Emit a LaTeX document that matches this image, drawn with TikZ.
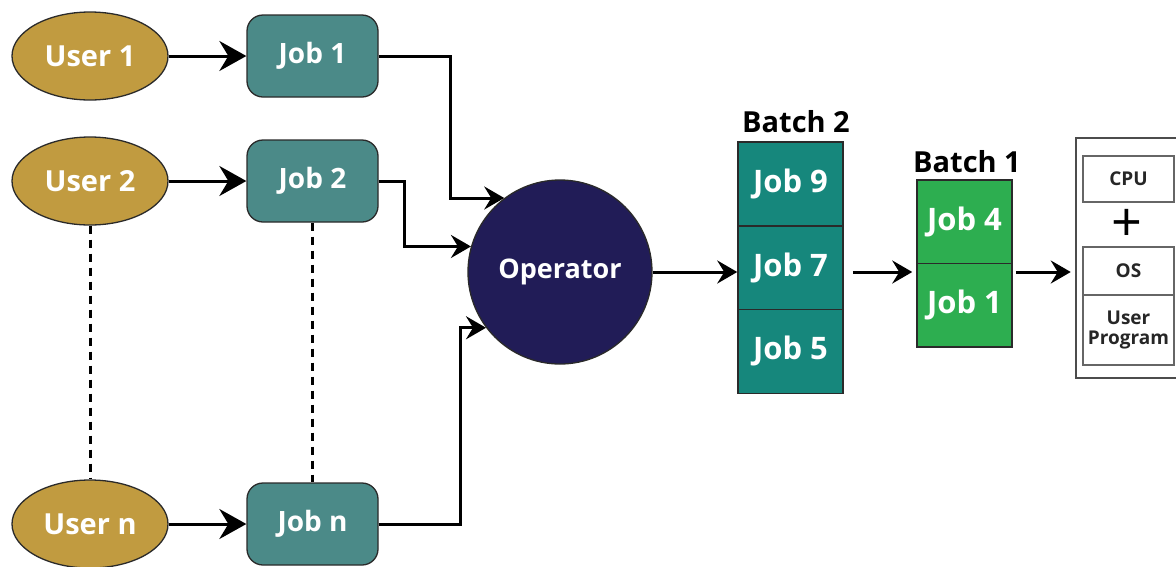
\documentclass[tikz,border=0pt]{standalone}
\usepackage{fontspec}
\setmainfont{Open Sans}
\usetikzlibrary{shapes.geometric,arrows.meta,calc}
\definecolor{userfill}{HTML}{C19B40}
\definecolor{jobfill}{HTML}{4B8A88}
\definecolor{opfill}{HTML}{211C57}
\definecolor{btwofill}{HTML}{16877C}
\definecolor{bonefill}{HTML}{2DAE50}
\definecolor{edgec}{HTML}{2A2A2A}
\definecolor{boxgray}{HTML}{666666}
\tikzset{
  userell/.style={ellipse, draw=edgec, line width=1.3pt, fill=userfill, minimum width=156pt, minimum height=88pt, inner sep=0pt, text=white, font=\bfseries\fontsize{29}{31}\selectfont},
  jobbox/.style={rectangle, rounded corners=16pt, draw=edgec, line width=1.3pt, fill=jobfill, minimum width=131pt, minimum height=82pt, inner sep=0pt, text=white, font=\bfseries\fontsize{28}{30}\selectfont},
  opnode/.style={circle, draw=edgec, line width=1.3pt, fill=opfill, minimum size=184pt, inner sep=0pt, text=white, font=\bfseries\fontsize{27}{29}\selectfont},
  btwocell/.style={rectangle, draw=edgec, line width=1.5pt, fill=btwofill, minimum width=105pt, minimum height=83.7pt, inner sep=0pt, text=white, font=\bfseries\fontsize{31}{33}\selectfont},
  bonecell/.style={rectangle, draw=edgec, line width=1.5pt, fill=bonefill, minimum width=95pt, minimum height=83.5pt, inner sep=0pt, text=white, font=\bfseries\fontsize{31}{33}\selectfont},
  batchlabel/.style={anchor=base, text=black, font=\bfseries\fontsize{29}{31}\selectfont, inner sep=0pt},
  sysbox/.style={rectangle, draw=boxgray, line width=2pt, minimum width=91pt, inner sep=0pt, text=black!85, font=\bfseries\fontsize{19}{26}\selectfont, align=center},
  bigarrow/.style={line width=3pt, -{Stealth[length=27pt,width=30pt,inset=9pt]}},
  arr/.style={line width=3pt, -{Stealth[length=20pt,width=23pt,inset=7pt]}},
  dashline/.style={line width=3pt, dash pattern=on 8pt off 6pt},
}
\begin{document}
\begin{tikzpicture}[x=1pt,y=-1pt]
\clip (0,0) rectangle (1176,566);
\fill[white] (0,0) rectangle (1176,566);
% users
\node[userell] (u1) at (90,56) {User 1};
\node[userell] (u2) at (90,181) {User 2};
\node[userell] (un) at (90,524) {User n};
% jobs
\node[jobbox] (j1) at (312.5,56) {Job 1};
\node[jobbox] (j2) at (312.5,181) {Job 2};
\node[jobbox] (jn) at (312.5,524) {Job n};
% operator
\node[opnode] (op) at (560,272) {Operator};
% batch 2
\node[btwocell] (b29) at (790.5,184) {Job 9};
\node[btwocell] (b27) at (790.5,267.7) {Job 7};
\node[btwocell] (b25) at (790.5,351.4) {Job 5};
\node[batchlabel] (lb2) at (796,132) {Batch 2};
% batch 1
\node[bonecell] (b14) at (964.5,221.5) {Job 4};
\node[bonecell] (b11) at (964.5,305) {Job 1};
\node[batchlabel] (lb1) at (967,172) {Batch 1};
% system
\node[rectangle, draw=black!70, line width=2.5pt, minimum width=120pt, minimum height=240pt, inner sep=0pt] (sys) at (1136,258) {};
\node[sysbox, minimum height=46pt] (cpu) at (1128.5,179) {CPU};
\node[font=\fontsize{54}{54}\selectfont, inner sep=0pt] (plus) at (1127,225) {+};
\node[sysbox, minimum height=48pt] (os) at (1128.5,271) {OS};
\node[sysbox, minimum height=70pt] (up) at (1128.5,330) {User\\[-6pt]Program};
% connectors
\draw[bigarrow] (u1) -- (j1);
\draw[bigarrow] (u2) -- (j2);
\draw[bigarrow] (un) -- (jn);
\draw[dashline] (u2.south) -- (un.north);
\draw[dashline] (j2.south) -- (jn.north);
\draw[arr] (j1.east) -- ++(72,0) |- (op.127.5);
\draw[arr] (j2.east) -- ++(26,0) |- (op.164);
\draw[arr] (jn.east) -- ++(82,0) |- (op.217.5);
\draw[arr] (op.east) -- (op.east -| b27.west);
\draw[arr, shorten <=9pt, shorten >=4pt] (op.east -| b27.east) -- (op.east -| b14.west);
\draw[arr, shorten <=3pt, shorten >=4pt] (op.east -| b14.east) -- (op.east -| sys.west);
\end{tikzpicture}
\end{document}
